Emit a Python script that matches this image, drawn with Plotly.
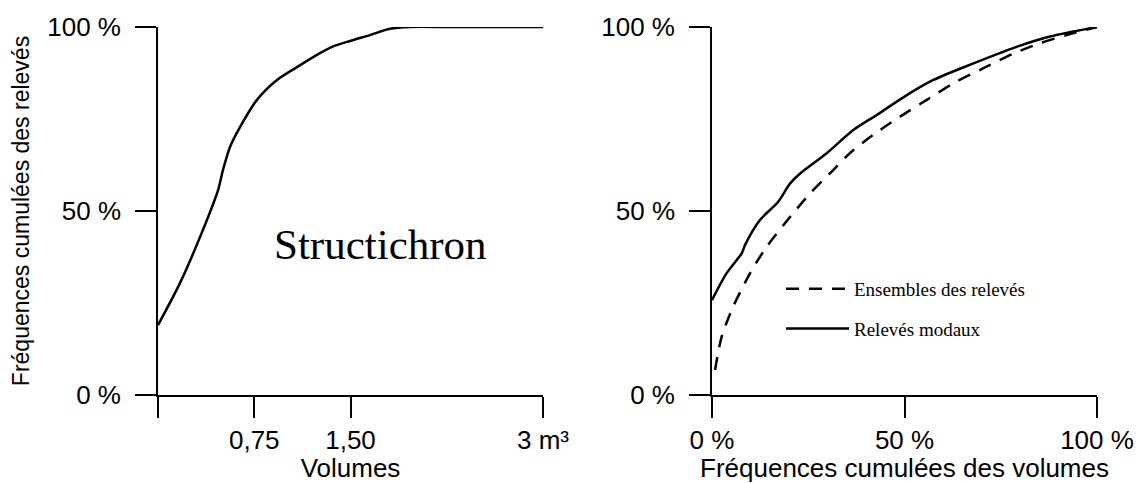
import plotly.graph_objects as go

# Left panel: cumulative frequency of relevés vs volume (m3)
vol_x = [0, 0.171, 0.327, 0.468, 0.506, 0.561, 0.639, 0.771, 0.927, 1.083, 1.262, 1.356,
         1.496, 1.652, 1.808, 1.964, 2.275, 3.0]
vol_y = [19.0, 30.4, 42.9, 55.7, 61.1, 67.4, 72.8, 80.2, 85.6, 89.1, 92.9, 94.6,
         96.2, 97.8, 99.5, 100, 100, 100]

# Right panel: cumulative frequency of relevés vs cumulative frequency of volumes
modal_x = [0, 3.8, 7.7, 8.6, 12.5, 17.2, 20.3, 22.9, 29.8, 36.7, 42.8, 50.6, 57.5,
           67.9, 79.1, 87.8, 100]
modal_y = [25.8, 33.1, 38.5, 40.8, 47.6, 52.5, 57.5, 60.2, 65.7, 72.0, 76.1, 81.5, 85.6,
           90.1, 94.6, 97.4, 100]
all_x = [0.8, 2.5, 5.5, 9.9, 14.2, 20.3, 25.5, 30.6, 35.8, 41.9, 48.8, 55.8, 62.7,
         70.5, 78.3, 85.2, 92.1, 100]
all_y = [6.8, 15.8, 24.0, 33.1, 40.3, 48.4, 54.8, 60.2, 65.7, 70.7, 75.6, 80.2, 84.7,
         88.8, 92.8, 95.6, 97.8, 100]

left_xticks = [0, 0.75, 1.5, 3]
left_xlabels = ["", "0,75", "1,50", "3 m³"]
pct_ticks = [0, 50, 100]
pct_labels = ["0 %", "50 %", "100 %"]

OFF = 8  # page body margin
W, H = 1145 - OFF, 483 - OFF
sans = "Liberation Sans, Arial, sans-serif"
serif = "Liberation Serif, DejaVu Serif, serif"


def px_x(p):
    return (p - OFF) / W


def px_y(p):
    return 1 - (p - OFF) / H


fig = go.Figure()
fig.add_trace(go.Scatter(x=vol_x, y=vol_y, mode="lines",
                         line=dict(color="black", width=2.5, shape="spline", smoothing=0.8),
                         showlegend=False, xaxis="x", yaxis="y"))
fig.add_trace(go.Scatter(x=all_x, y=all_y, mode="lines", name="Ensembles des relevés", legendgroup="a",
                         line=dict(color="black", width=2.5, dash="13px,10px", shape="spline", smoothing=0.8),
                         xaxis="x2", yaxis="y2"))
fig.add_trace(go.Scatter(x=modal_x, y=modal_y, mode="lines", name="Relevés modaux", legendgroup="b",
                         line=dict(color="black", width=2.5, shape="spline", smoothing=0.8),
                         xaxis="x2", yaxis="y2"))

ydom = [px_y(395), px_y(27)]
axis_common = dict(showline=True, linecolor="black", linewidth=1.6, ticks="outside", ticklen=21,
                   tickwidth=1.6, tickcolor="black", showgrid=False, zeroline=False, automargin=False,
                   tickfont=dict(family=sans, size=26, color="black"))
title_font = dict(family=sans, size=26, color="black")

fig.update_layout(
    width=W, height=H,
    margin=dict(l=0, r=0, t=0, b=0),
    paper_bgcolor="white", plot_bgcolor="white",
    xaxis=dict(domain=[px_x(158), px_x(543)], range=[0, 3], tickvals=left_xticks, ticktext=left_xlabels,
               title=dict(text="Volumes", font=title_font, standoff=1),
               anchor="y", **axis_common),
    yaxis=dict(domain=ydom, range=[0, 100], tickvals=pct_ticks, ticktext=pct_labels,
               title=dict(text="Fréquences cumulées des relevés",
                          font=dict(family=sans, size=23, color="black"), standoff=13),
               anchor="x", ticklabelstandoff=9, **axis_common),
    xaxis2=dict(domain=[px_x(712), px_x(1097)], range=[0, 100], tickvals=pct_ticks, ticktext=pct_labels,
                title=dict(text="Fréquences cumulées des volumes", font=title_font, standoff=1),
                anchor="y2", **axis_common),
    yaxis2=dict(domain=ydom, range=[0, 100], tickvals=pct_ticks, ticktext=pct_labels,
                anchor="x2", ticklabelstandoff=9, **axis_common),
    legend=dict(x=px_x(781), y=px_y(270), xanchor="left", yanchor="top",
                font=dict(family=serif, size=19, color="black"),
                bgcolor="rgba(0,0,0,0)", itemwidth=63, tracegroupgap=12,
                traceorder="grouped"),
    annotations=[dict(text="Structichron", x=1.73, y=40.8, xref="x", yref="y", showarrow=False,
                      font=dict(family=serif, size=43, color="black"))],
)

fig.write_html("out.html")
